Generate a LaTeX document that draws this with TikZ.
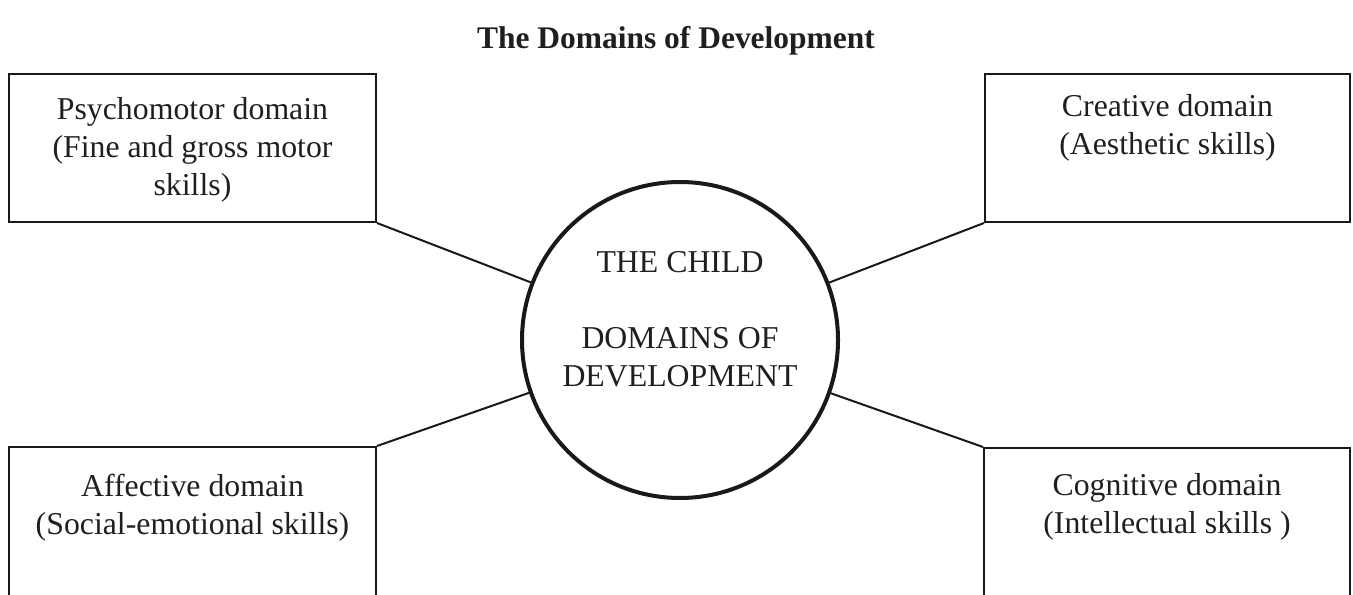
\documentclass[tikz,border=0pt]{standalone}
\usepackage{fontspec}
\setmainfont{Liberation Serif}
\begin{document}
\begin{tikzpicture}[x=0.75pt,y=-0.75pt,
  box/.style={draw, line width=1.5pt, rectangle, inner sep=0pt, color=black!90},
  txt/.style={anchor=north, inner sep=0pt, align=center, text=black!88,
    font=\fontsize{23.85pt}{28.5pt}\selectfont},
  link/.style={line width=1.5pt, color=black!90},
  hub/.style={draw, circle, line width=3pt, inner sep=0pt, minimum size=316*0.75pt, color=black!90}]
\useasboundingbox (0,0) rectangle (1353,595);
\clip (0,0) rectangle (1353,595);
\node[anchor=base, inner sep=0pt, text=black!88, font=\fontsize{23.6pt}{28pt}\selectfont\bfseries] (title) at (676,49) {The Domains of Development};
% boxes
\node[box, minimum width=367*0.75pt, minimum height=148*0.75pt] (tl) at (192.5,148) {};
\node[box, minimum width=365*0.75pt, minimum height=148*0.75pt] (tr) at (1167.5,148) {};
\node[box, minimum width=367*0.75pt, minimum height=180*0.75pt] (bl) at (192.5,537) {};
\node[box, minimum width=366*0.75pt, minimum height=180*0.75pt] (br) at (1167,538) {};
% hub
\node[hub] (c) at (680,340) {};
% texts
\node[txt] (tltext) at (192.5,97.5) {Psychomotor domain\\(Fine and gross motor\\skills)};
\node[txt] (trtext) at (1167.5,94.5) {Creative domain\\(Aesthetic skills)};
\node[txt] (bltext) at (192.5,473.5) {Affective domain\\(Social-emotional skills)};
\node[txt] (brtext) at (1167,473.5) {Cognitive domain\\(Intellectual skills )};
\node[txt] (ctext) at (680,251) {THE CHILD\\[0pt]\mbox{}\\DOMAINS OF\\DEVELOPMENT};
% connectors
\draw[link] (tl.south east) -- (c);
\draw[link] (tr.south west) -- (c);
\draw[link] (bl.north east) -- (c);
\draw[link] (br.north west) -- (c);
\end{tikzpicture}
\end{document}
